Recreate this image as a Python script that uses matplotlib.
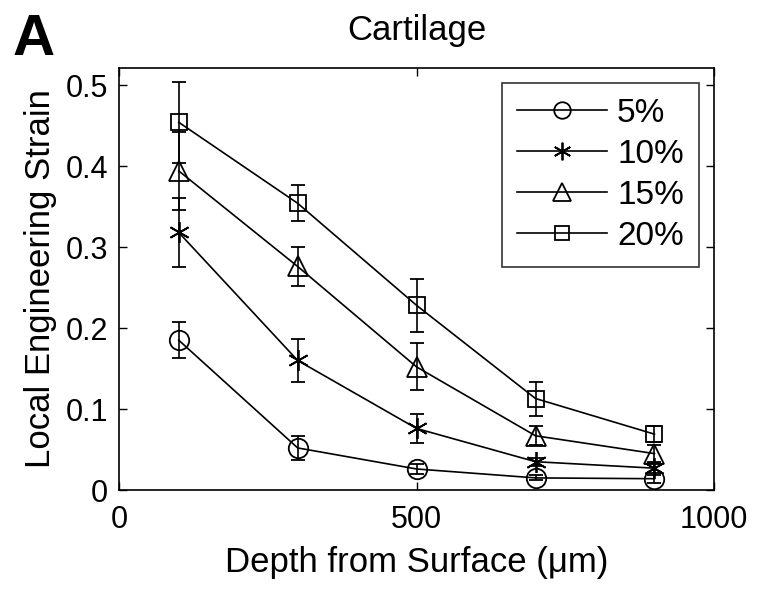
import matplotlib
matplotlib.use('Agg')
import matplotlib.pyplot as plt
from matplotlib.lines import Line2D

plt.rcParams['font.family'] = ['Liberation Sans', 'DejaVu Sans']

# depth (um) and strain for each applied compression
depth = [100, 300, 500, 700, 900]
labels = ['5%', '10%', '15%', '20%']
strain_5 = [0.185, 0.052, 0.026, 0.015, 0.014]
err_5 = [0.022, 0.015, 0.006, 0.003, 0.005]
strain_10 = [0.318, 0.160, 0.076, 0.035, 0.027]
err_10 = [0.043, 0.027, 0.018, 0.005, 0.006]
strain_15 = [0.394, 0.276, 0.152, 0.067, 0.045]
err_15 = [0.048, 0.024, 0.029, 0.012, 0.010]
strain_20 = [0.454, 0.354, 0.228, 0.113, 0.069]
err_20 = [0.050, 0.022, 0.033, 0.021, 0.010]

series = [strain_5, strain_10, strain_15, strain_20]
errors = [err_5, err_10, err_15, err_20]
markers = ['o', (6, 2, 0), '^', 's']
msizes = [14, 15, 15, 12]

fig = plt.figure(figsize=(7.66, 5.94), dpi=100)
ax = fig.add_axes([0.1557, 0.175, 0.932 - 0.1557, 0.8855 - 0.175])

handles = []
for y, e, m, ms, lab in zip(series, errors, markers, msizes, labels):
    ax.errorbar(depth, y, yerr=e, color='black', marker=m, markersize=ms,
                markerfacecolor='none', markeredgecolor='black', markeredgewidth=1.3,
                linewidth=1.2, elinewidth=1.2, capsize=5, capthick=1.2)
    handles.append(Line2D([], [], color='black', marker=m, markersize=ms * 0.85,
                          markerfacecolor='none', markeredgecolor='black',
                          markeredgewidth=1.3, linewidth=1.2, label=lab))

ax.set_xlim(0, 1000)
ax.set_ylim(0, 0.521)
ax.set_xticks([0, 500, 1000])
ax.set_yticks([0, 0.1, 0.2, 0.3, 0.4, 0.5])
ax.set_xticklabels(['0', '500', '1000'])
ax.set_yticklabels(['0', '0.1', '0.2', '0.3', '0.4', '0.5'])
ax.tick_params(direction='in', top=True, right=True, length=6, width=1,
               labelsize=22)
ax.tick_params(axis='x', pad=11)
ax.tick_params(axis='y', pad=8)
for s in ax.spines.values():
    s.set_linewidth(1.2)

ax.set_xlabel('Depth from Surface (\u03bcm)', fontsize=25, labelpad=8)
ax.set_ylabel('Local Engineering Strain', fontsize=25, labelpad=6)
ax.set_title('Cartilage', fontsize=25, pad=20)
fig.text(0.017, 0.907, 'A', fontsize=42, fontweight='bold')

leg = ax.legend(handles=handles, loc='upper right', bbox_to_anchor=(0.975, 0.965),
                borderaxespad=0, fontsize=24, frameon=True, fancybox=False,
                edgecolor='black', handlelength=2.7, borderpad=0.45,
                labelspacing=0.3, handletextpad=0.3)
leg.get_frame().set_linewidth(1.2)

fig.savefig('out.png', dpi=100)
